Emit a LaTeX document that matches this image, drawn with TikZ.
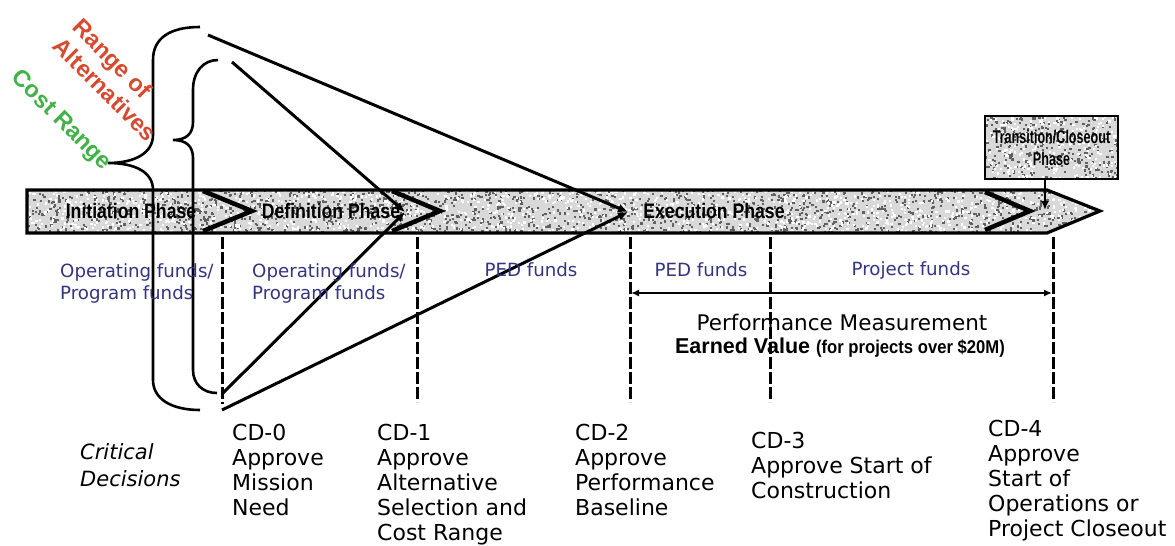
\documentclass[tikz,border=0pt]{standalone}
\usepackage{fontspec}
\setmainfont{DejaVu Sans}
\newfontfamily\narrowfont[FakeStretch=0.84]{Liberation Sans}
\newfontfamily\condfont[FakeStretch=0.68]{Liberation Sans}
\newfontfamily\semifont[FakeStretch=0.9]{Liberation Sans}
\newfontfamily\headfont{Liberation Sans}
\usetikzlibrary{arrows.meta}
\definecolor{fundblue}{RGB}{52,52,128}
\definecolor{altred}{RGB}{214,74,48}
\definecolor{costgreen}{RGB}{64,178,72}

% random speckles inside the current clip: x0, y0, width, height, count
\newcommand{\darkgrain}[5]{%
  \foreach \k in {1,...,#5}{\fill[black!62] ({#1+#3*rnd},{#2+#4*rnd}) rectangle ++(2.2,2.2);}}
\newcommand{\lightgrain}[5]{%
  \foreach \k in {1,...,#5}{\fill[white] ({#1+#3*rnd},{#2+#4*rnd}) rectangle ++(2.2,2.2);}}

\begin{document}
\begin{tikzpicture}[x=1pt,y=-1pt,
  phase/.style={font=\narrowfont\bfseries\fontsize{21}{24}\selectfont, inner sep=0},
  fund/.style={font=\fontsize{18.2}{22}\selectfont, text=fundblue, align=left, inner sep=0},
  decision/.style={font=\fontsize{22}{25}\selectfont, align=left, inner sep=0, anchor=north west},
  milestone/.style={line width=3pt, dash pattern=on 12pt off 3pt},
  brace/.style={line width=2.6pt},
  feed/.style={line width=3pt, -{Latex[length=10pt,width=9pt]}},
  chev/.style={line width=4.5pt, line join=miter},
]
\useasboundingbox (0,0) rectangle (1175,546);
\fill[white] (0,0) rectangle (1175,546);
\pgfmathsetseed{7}

% ---- phase band ----
\begin{scope}
  \clip (27,190) -- (1047,190) -- (1100,211) -- (1047,233) -- (27,233) -- cycle;
  \fill[gray!30] (27,190) rectangle (1100,233);
  \darkgrain{27}{189}{1073}{44}{1700}
  \lightgrain{27}{189}{1073}{44}{1400}
\end{scope}
\draw[line width=3.2pt, line join=miter]
  (27,190) -- (1047,190) -- (1100,211) -- (1047,233) -- (27,233) -- cycle;

\draw[chev] (203,191) -- (252,211) -- (203,231);
\draw[chev] (392,191) -- (440,211) -- (392,231);
\draw[chev] (985,192) -- (1030,211) -- (985,230);

\node[phase] (init) at (131,211) {Initiation Phase};
\node[phase] (def)  at (331,211) {Definition Phase};
\node[phase] (exec) at (714,211) {Execution Phase};

% ---- transition box ----
\node[rectangle, minimum width=133pt, minimum height=62pt, inner sep=0] (trans) at (1051.5,147.5) {};
\begin{scope}
  \clip (trans.south west) rectangle (trans.north east);
  \fill[gray!30] (trans.south west) rectangle (trans.north east);
  \darkgrain{985}{116}{133}{63}{300}
  \lightgrain{985}{116}{133}{63}{250}
\end{scope}
\draw[line width=2.2pt] (trans.south west) rectangle (trans.north east);
\node[font=\condfont\bfseries\fontsize{18.5}{22}\selectfont, align=center, inner sep=0] (transtext) at (trans.center) {Transition/Closeout\\Phase};
\coordinate (transTip) at (1045,210);
\draw[line width=2.5pt, -{Latex[length=9pt,width=8pt]}] (trans.south -| transTip) -- (transTip);

% ---- ranges (braces) ----
\draw[brace] (200,27) .. controls (170,27) and (153,38) .. (153,60) -- (153,135)
  .. controls (153,153) and (135,163) .. (108,163)
  .. controls (135,163) and (153,172) .. (153,190) -- (153,380)
  .. controls (153,398) and (170,410) .. (200,410);
\draw[brace] (218,60) .. controls (203,60) and (193,72) .. (193,90) -- (193,122)
  .. controls (193,134) and (186,140) .. (173,140)
  .. controls (186,140) and (193,146) .. (193,158) -- (193,370)
  .. controls (193,384) and (203,393) .. (217,393);

\node[rotate=-45, text=altred, align=left, inner sep=0,
  font=\headfont\bfseries\fontsize{23.5}{27}\selectfont] (alts) at (115,80) {Range of\\Alternatives};
\node[rotate=-45, text=costgreen, inner sep=0,
  font=\headfont\bfseries\fontsize{23.5}{27}\selectfont] (cost) at (61,121) {Cost Range};

% ---- narrowing lines ----
\coordinate (defTip)  at (405,212);
\coordinate (execTip) at (628,212);
\coordinate (costTop) at (208,35);
\coordinate (altTop)  at (232,62);
\coordinate (cdA)     at (222,394);
\coordinate (cdB)     at (222,410);
\draw[feed] (costTop) -- (execTip);
\draw[feed] (altTop) -- (defTip);
\draw[feed] (cdA) -- (defTip);
\draw[feed] (cdB) -- (execTip);

% ---- critical decision markers ----
\coordinate (m0t) at (222,237);  \coordinate (m0b) at (222,404);
\coordinate (m1t) at (417,237);  \coordinate (m1b) at (417,402);
\coordinate (m2t) at (630,237);  \coordinate (m2b) at (630,402);
\coordinate (m3t) at (770,237);  \coordinate (m3b) at (770,402);
\coordinate (m4t) at (1053,237); \coordinate (m4b) at (1053,402);
\foreach \m in {0,...,4}{\draw[milestone] (m\m t) -- (m\m b);}

\coordinate (pmL) at (631,293);
\coordinate (pmR) at (1052,293);
\draw[line width=2.2pt, {Latex[length=8pt,width=7pt]}-{Latex[length=8pt,width=7pt]}] (pmL) -- (pmR);

% ---- funding ----
\node[fund, anchor=west] (f1) at (60,283) {Operating funds/\\Program funds};
\node[fund, anchor=west] (f2) at (252,283) {Operating funds/\\Program funds};
\node[fund] (f3) at (531,270) {PED funds};
\node[fund] (f4) at (701,270) {PED funds};
\node[fund] (f5) at (911,270) {Project funds};

\node[inner sep=0, font=\fontsize{21.5}{24}\selectfont] (pm) at (842,322) {Performance Measurement};
\node[inner sep=0] (ev) at (840,348) {\headfont\bfseries\fontsize{21.5}{24}\selectfont Earned Value
  {\semifont\bfseries\fontsize{18.5}{22}\selectfont(for projects over \$20M)}};

% ---- decisions ----
\node[decision, font=\itshape\fontsize{21}{27}\selectfont] (crit) at (80,443) {Critical\\Decisions};
\node[decision] (cd0) at (232,424) {CD-0\\Approve\\Mission\\Need};
\node[decision] (cd1) at (377,424) {CD-1\\Approve\\Alternative\\Selection and\\Cost Range};
\node[decision] (cd2) at (575,424) {CD-2\\Approve\\Performance\\Baseline};
\node[decision] (cd3) at (751,432) {CD-3\\Approve Start of\\Construction};
\node[decision] (cd4) at (988,420) {CD-4\\Approve\\Start of\\Operations or\\Project Closeout};
\end{tikzpicture}
\end{document}
